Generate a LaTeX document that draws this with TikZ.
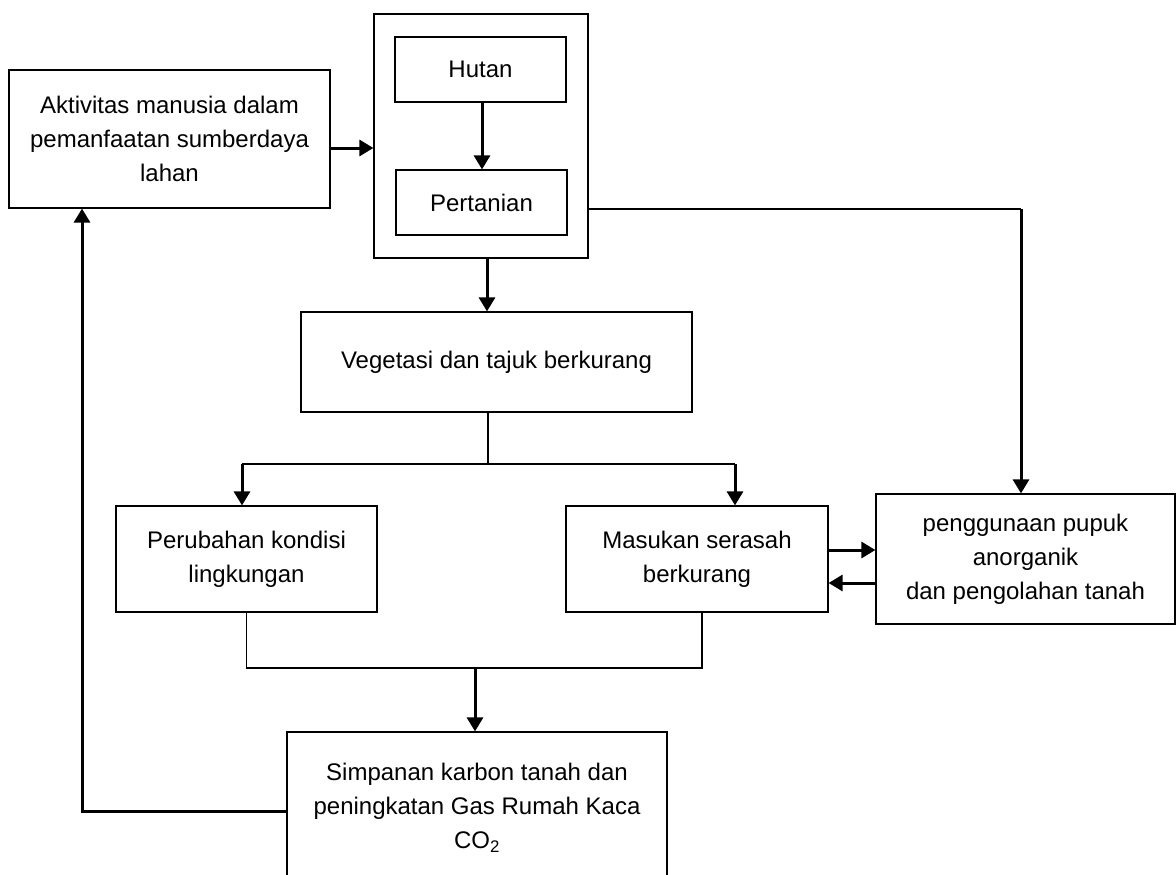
\documentclass[tikz,border=0pt]{standalone}
\usepackage{fontspec}
\setmainfont{Liberation Sans}
\usetikzlibrary{arrows.meta}
\begin{document}
\begin{tikzpicture}[x=1pt,y=-1pt,
  box/.style={draw, line width=1.2pt, inner sep=0pt, align=center,
    font=\fontsize{24}{34}\selectfont},
  arr/.style={line width=3pt, -{Triangle[length=14pt,width=16pt]}},
  ln/.style={line width=1.3pt}]
\useasboundingbox (0,0) rectangle (1176,875);
% boxes
\node[box, minimum width=321pt, minimum height=138pt] (akt) at (169.5,139)
  {Aktivitas manusia dalam\\pemanfaatan sumberdaya\\lahan};
\node[box, minimum width=214pt, minimum height=244pt] (outer) at (481,136) {};
\node[box, minimum width=171pt, minimum height=65pt] (hutan) at (480.5,69.5) {Hutan};
\node[box, minimum width=171pt, minimum height=65pt] (pert) at (481.5,202.5) {Pertanian};
\node[box, minimum width=391pt, minimum height=100pt] (veg) at (496.5,362)
  {Vegetasi dan tajuk berkurang};
\node[box, minimum width=261pt, minimum height=106pt] (perub) at (246.5,559)
  {Perubahan kondisi\\lingkungan};
\node[box, minimum width=262pt, minimum height=106pt] (masuk) at (697,559)
  {Masukan serasah\\berkurang};
\node[box, minimum width=299pt, minimum height=130pt] (peng) at (1025.5,559)
  {penggunaan pupuk\\anorganik\\dan pengolahan tanah};
\node[box, minimum width=380pt, minimum height=152pt] (simp) at (477,808)
  {Simpanan karbon tanah dan\\peningkatan Gas Rumah Kaca\\CO\textsubscript{2}};
% connectors
\draw[arr] (akt.east |- 0,148) -- (outer.west |- 0,148);
\draw[arr] (hutan.south -| 482,0) -- (pert.north -| 482,0);
\draw[arr] (outer.south -| 487,0) -- (veg.north -| 487,0);
\coordinate (jv) at (488,464);
\coordinate (jl) at (242,464);
\coordinate (jr) at (735,464);
\draw[ln] (veg.south -| jv) -- (jv);
\draw[ln] (jl) -- (jr);
\draw[arr] (jl) -- (jl |- perub.north);
\draw[arr] (jr) -- (jr |- masuk.north);
\coordinate (jb) at (475,668);
\draw[ln] (perub.south) |- (jb) -| ([xshift=5pt]masuk.south);
\draw[arr] (jb) -- (jb |- simp.north);
\coordinate (fb) at (82,811);
\draw[arr] (fb -| simp.west) -- (fb) -- (fb |- akt.south);
\coordinate (cr) at (1021,209);
\draw[ln] (cr -| outer.east) -- (cr);
\draw[arr] (cr) -- (cr |- peng.north);
\draw[arr] (masuk.east |- 0,550) -- (peng.west |- 0,550);
\draw[arr] (peng.west |- 0,583) -- (masuk.east |- 0,583);
\end{tikzpicture}
\end{document}
